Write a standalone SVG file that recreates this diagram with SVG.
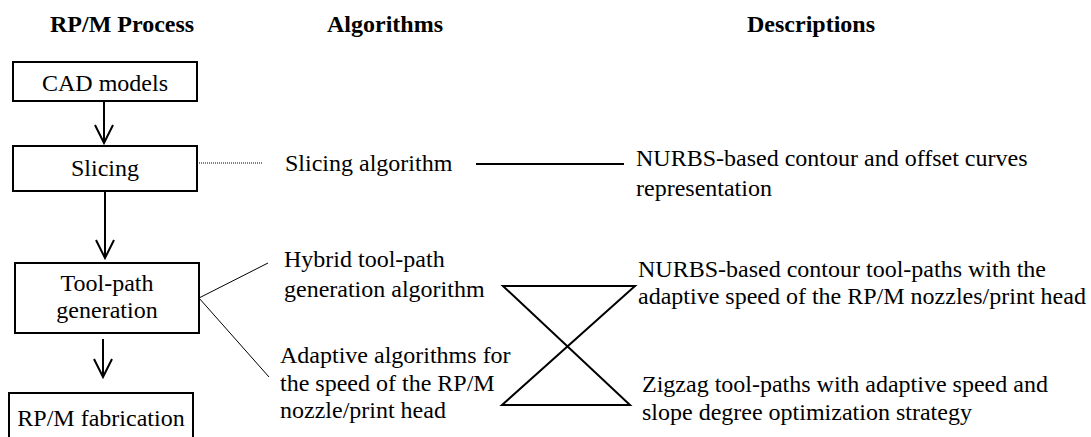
<svg xmlns="http://www.w3.org/2000/svg" width="1091" height="437" viewBox="0 0 1091 437" font-family="'Liberation Serif', 'DejaVu Serif', serif" font-size="24">
<style>
text{font-family:'Liberation Serif','DejaVu Serif',serif;font-size:24px;fill:#000}
.h{font-weight:bold}
.box{fill:#fff;stroke:#000;stroke-width:2}
.arr{stroke:#000;stroke-width:2;fill:none}
.thin{stroke:#000;stroke-width:1;fill:none}
.mid{stroke:#000;stroke-width:2;fill:none}
</style>
<rect width="1091" height="437" fill="#fff"/>
<g id="headers">
<text class="h" x="50" y="32">RP/M Process</text>
<text class="h" x="327" y="32">Algorithms</text>
<text class="h" x="747" y="32">Descriptions</text>
</g>
<g id="connectors">
<path class="arr" d="M104 101V143M95 125L104 143L113 125"/>
<path class="arr" d="M105 191V258M96 240L105 258L114 240"/>
<path class="arr" d="M103 339V377M94 359L103 377L112 359"/>
<line class="thin" x1="199" y1="163" x2="263" y2="163" stroke-dasharray="1,1"/>
<line class="mid" x1="476" y1="164" x2="624" y2="164"/>
<line class="thin" x1="199" y1="298" x2="268" y2="263"/>
<line class="thin" x1="199" y1="298" x2="269" y2="377"/>
<path class="mid" d="M503 286H635L502 405H630Z"/>
</g>
<g id="cad"><rect class="box" x="13" y="62" width="184" height="39"/><text x="105" y="91" text-anchor="middle">CAD models</text></g>
<g id="slicing"><rect class="box" x="13" y="146" width="184" height="45"/><text x="105" y="176" text-anchor="middle">Slicing</text></g>
<g id="toolpath"><rect class="box" x="15" y="263" width="184" height="70"/><text x="107" y="291" text-anchor="middle">Tool-path</text><text x="107" y="318" text-anchor="middle">generation</text></g>
<g id="fabrication"><rect class="box" x="9" y="393" width="184" height="50"/><text x="101" y="426" text-anchor="middle">RP/M fabrication</text></g>
<g id="alg-slicing"><text x="285" y="171">Slicing algorithm</text></g>
<g id="alg-hybrid"><text x="284" y="267">Hybrid tool-path</text><text x="284" y="297">generation algorithm</text></g>
<g id="alg-adaptive"><text x="280" y="363">Adaptive algorithms for</text><text x="280" y="391">the speed of the RP/M</text><text x="280" y="418">nozzle/print head</text></g>
<g id="desc-nurbs"><text x="636" y="166">NURBS-based contour and offset curves</text><text x="636" y="196">representation</text></g>
<g id="desc-contour"><text x="638" y="277">NURBS-based contour tool-paths with the</text><text x="638" y="304">adaptive speed of the RP/M nozzles/print head</text></g>
<g id="desc-zigzag"><text x="642" y="392">Zigzag tool-paths with adaptive speed and</text><text x="642" y="420">slope degree optimization strategy</text></g>
</svg>
